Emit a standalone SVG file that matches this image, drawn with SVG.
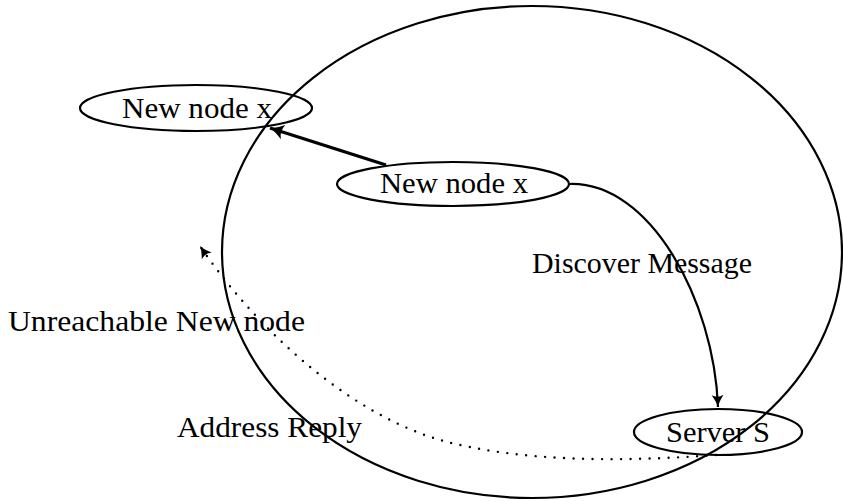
<svg xmlns="http://www.w3.org/2000/svg" width="843" height="501" viewBox="0 0 843 501">
  <style>
    .shape { fill: none; stroke: #000; stroke-width: 2.2; }
    .label { font-family: "Liberation Serif", "DejaVu Serif", serif; font-size: 29px; fill: #000; }
    .edge { fill: none; stroke: #000; }
    .dots { fill: none; stroke: #000; stroke-width: 2.4; stroke-linecap: round; stroke-dasharray: 0 9.5; }
  </style>
  <defs>
    <marker id="tip" markerUnits="userSpaceOnUse" markerWidth="20" markerHeight="20" refX="0" refY="0" viewBox="-12 -8 14 16" orient="auto">
      <path d="M -11 -6 Q -5 -1.5 0 0 Q -5 1.5 -11 6 Q -8 0 -11 -6 Z" fill="#000"/>
    </marker>
    <marker id="tipSmall" markerUnits="userSpaceOnUse" markerWidth="16" markerHeight="16" refX="0" refY="0" viewBox="-10 -6 12 12" orient="auto">
      <path d="M -9 -4.5 Q -4 -1 0 0 Q -4 1 -9 4.5 Q -6.5 0 -9 -4.5 Z" fill="#000"/>
    </marker>
  </defs>

  <!-- network boundary -->
  <ellipse id="network" class="shape" cx="532" cy="252" rx="310" ry="246"/>

  <g id="node-outside">
    <ellipse class="shape" cx="196" cy="108" rx="116" ry="23"/>
    <text class="label" x="122" y="118" textLength="150" lengthAdjust="spacingAndGlyphs">New node x</text>
  </g>

  <g id="node-inside">
    <ellipse class="shape" cx="453" cy="184" rx="116" ry="22"/>
    <text class="label" x="380" y="193" textLength="148" lengthAdjust="spacingAndGlyphs">New node x</text>
  </g>

  <g id="server">
    <ellipse class="shape" cx="718" cy="432" rx="84" ry="23"/>
    <text class="label" x="666" y="442" textLength="104" lengthAdjust="spacingAndGlyphs">Server S</text>
  </g>

  <g id="connectors">
    <line class="edge" x1="386" y1="165" x2="270" y2="128" stroke-width="3.4" marker-end="url(#tip)"/>
    <path class="edge" stroke-width="2.2" d="M 570 184 C 650 182 714 300 718 407" marker-end="url(#tipSmall)"/>
    <path class="dots" d="M 716 455 C 620 462 520 462 440 440 C 340 410 250 320 200 246" marker-end="url(#tipSmall)"/>
  </g>

  <g id="labels">
    <text class="label" x="532" y="273" textLength="220" lengthAdjust="spacingAndGlyphs">Discover Message</text>
    <text class="label" x="8" y="331" textLength="297" lengthAdjust="spacingAndGlyphs">Unreachable New node</text>
    <text class="label" x="177" y="437" textLength="185" lengthAdjust="spacingAndGlyphs">Address Reply</text>
  </g>
</svg>
